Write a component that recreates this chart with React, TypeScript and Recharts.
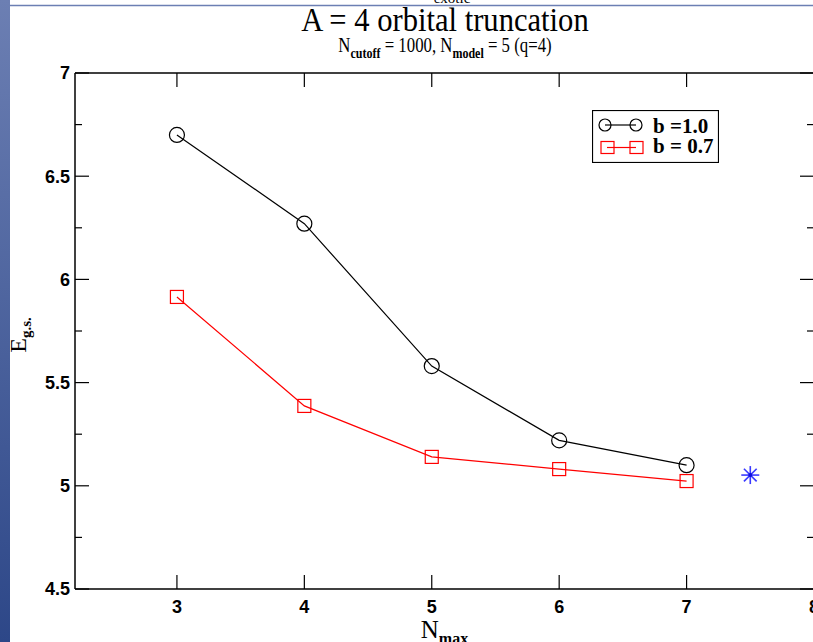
import React from 'react';
import { ComposedChart, Line, Scatter, XAxis, YAxis, Legend } from 'recharts';

// ---- data ----
const nmaxValues = [3, 4, 5, 6, 7];
const energyB10 = [6.7, 6.27, 5.58, 5.22, 5.1];
const energyB07 = [5.915, 5.387, 5.14, 5.081, 5.023];
const extrapolatedNmax = [7.5];
const extrapolatedEnergy = [5.052];
const xTicks = [3, 4, 5, 6, 7, 8];
const yTicks = [4.5, 4.75, 5, 5.25, 5.5, 5.75, 6, 6.25, 6.5, 6.75, 7];
const seriesNames = ['b =1.0', 'b = 0.7'];
const xDomain: [number, number] = [2.2, 8];
const yDomain: [number, number] = [4.5, 7];

const dataB10 = nmaxValues.map((n, i) => ({ x: n, y: energyB10[i] }));
const dataB07 = nmaxValues.map((n, i) => ({ x: n, y: energyB07[i] }));
const dataStar = extrapolatedNmax.map((n, i) => ({ x: n, y: extrapolatedEnergy[i] }));

const TM = 5; // tick margin
const MAJOR = 14;
const MINOR = 7;
const TICK_FONT = '"Liberation Sans", Arial, sans-serif';
const SERIF = '"Liberation Serif", "Times New Roman", serif';

const isMajor = (v: number) => Math.abs(v * 2 - Math.round(v * 2)) < 1e-6;

const LeftTick = (props: any) => {
  const { x, y, payload } = props;
  const v = payload.value as number;
  const edge = x + TM;
  const major = isMajor(v);
  return (
    <g>
      <line x1={edge} x2={edge + (major ? MAJOR : MINOR)} y1={y} y2={y} stroke="#000" strokeWidth={1.2} />
      {major && (
        <text x={x} y={y} dy="0.36em" textAnchor="end" fontFamily={TICK_FONT} fontWeight="bold" fontSize={18} fill="#000">
          {String(v)}
        </text>
      )}
    </g>
  );
};

const RightTick = (props: any) => {
  const { x, y, payload } = props;
  const v = payload.value as number;
  const edge = x - TM;
  const major = isMajor(v);
  return <line x1={edge} x2={edge - (major ? MAJOR : MINOR)} y1={y} y2={y} stroke="#000" strokeWidth={1.2} />;
};

const BottomTick = (props: any) => {
  const { x, y, payload } = props;
  const edge = y - TM;
  return (
    <g>
      <line x1={x} x2={x} y1={edge} y2={edge - MAJOR} stroke="#000" strokeWidth={1.2} />
      <text x={x} y={edge + 24} textAnchor="middle" fontFamily={TICK_FONT} fontWeight="bold" fontSize={18} fill="#000">
        {String(payload.value)}
      </text>
    </g>
  );
};

const TopTick = (props: any) => {
  const { x, y } = props;
  const edge = y + TM;
  return <line x1={x} x2={x} y1={edge} y2={edge + MAJOR} stroke="#000" strokeWidth={1.2} />;
};

const YTitle = (props: any) => {
  const vb = props.viewBox || { x: 0, y: 73, width: 75, height: 516 };
  const cx = vb.x + 26;
  const cy = vb.y + vb.height / 2 + 4;
  return (
    <text transform={`translate(${cx},${cy}) rotate(-90)`} textAnchor="middle" fontFamily={SERIF} fontSize={24} fill="#000">
      E
      <tspan dy={5} fontSize={15} fontWeight="bold">g.s.</tspan>
    </text>
  );
};

const XTitle = (props: any) => {
  const vb = props.viewBox || { x: 75, y: 589, width: 739, height: 53 };
  return (
    <text x={vb.x + vb.width / 2} y={vb.y + 49} textAnchor="middle" fontFamily={SERIF} fontSize={25} fill="#000">
      N
      <tspan dy={6} fontSize={16} fontWeight="bold">max</tspan>
    </text>
  );
};

const CircleDot = (p: any) => (
  <circle key={`c-${p.index}`} cx={p.cx} cy={p.cy} r={7.5} fill="none" stroke="#000" strokeWidth={1.2} />
);
const SquareDot = (p: any) => (
  <rect key={`s-${p.index}`} x={p.cx - 6.5} y={p.cy - 6.5} width={13} height={13} fill="none" stroke="#ff0000" strokeWidth={1.2} />
);
const StarShape = (p: any) => {
  const { cx, cy } = p;
  const r = 9;
  const d = r * Math.SQRT1_2;
  return (
    <g stroke="#3a3aff" strokeWidth={1.6}>
      <line x1={cx - r} x2={cx + r} y1={cy} y2={cy} />
      <line x1={cx} x2={cx} y1={cy - r} y2={cy + r} />
      <line x1={cx - d} x2={cx + d} y1={cy - d} y2={cy + d} />
      <line x1={cx - d} x2={cx + d} y1={cy + d} y2={cy - d} />
      <circle cx={cx} cy={cy} r={2} fill="#1010e0" stroke="none" />
    </g>
  );
};

const LegendBox = () => (
  <svg width={127} height={53} style={{ display: 'block' }}>
    <rect x={0.5} y={0.5} width={126} height={52} fill="#fff" stroke="#000" strokeWidth={1.2} />
    <line x1={13} x2={44} y1={15} y2={15} stroke="#000" strokeWidth={1.2} />
    <circle cx={13} cy={15} r={6} fill="none" stroke="#000" strokeWidth={1.2} />
    <circle cx={44} cy={15} r={6} fill="none" stroke="#000" strokeWidth={1.2} />
    <text x={61} y={23} fontFamily={SERIF} fontWeight="bold" fontSize={21} fill="#000">{seriesNames[0]}</text>
    <line x1={15} x2={44} y1={37.5} y2={37.5} stroke="#ff0000" strokeWidth={1.2} />
    <rect x={9} y={31.5} width={13} height={12} fill="none" stroke="#ff0000" strokeWidth={1.2} />
    <rect x={38} y={31.5} width={13} height={12} fill="none" stroke="#ff0000" strokeWidth={1.2} />
    <text x={61} y={43} fontFamily={SERIF} fontWeight="bold" fontSize={21} fill="#000">{seriesNames[1]}</text>
  </svg>
);

export default function App() {
  return (
    <div style={{ position: 'absolute', left: 0, top: 0, width: 813, height: 642, overflow: 'hidden', background: '#fff' }}>
      <svg width={813} height={642} style={{ position: 'absolute', left: 0, top: 0 }}>
        <defs>
          <linearGradient id="strip" x1="0" y1="0" x2="0" y2="1">
            <stop offset="0%" stopColor="#6c7fb3" />
            <stop offset="100%" stopColor="#2d4788" />
          </linearGradient>
        </defs>
        <rect x={0} y={0} width={10} height={642} fill="url(#strip)" />
        <line x1={10} x2={813} y1={5.5} y2={5.5} stroke="#6c7fb3" strokeWidth={1.5} />
        <text x={452} y={3} textAnchor="middle" fontFamily={SERIF} fontSize={15} fill="#000">exotic</text>
        <text transform="translate(445,31) scale(0.9,1)" textAnchor="middle" fontFamily={SERIF} fontSize={34} fill="#000">
          A = 4 orbital truncation
        </text>
        <text transform="translate(445,52) scale(0.8,1)" textAnchor="middle" fontFamily={SERIF} fontSize={21} fill="#000">
          N<tspan dy={6} fontSize={15} fontWeight="bold">cutoff</tspan>
          <tspan dy={-6}> = 1000, N</tspan>
          <tspan dy={6} fontSize={15} fontWeight="bold">model</tspan>
          <tspan dy={-6}> = 5 (q=4)</tspan>
        </text>
      </svg>
      <div style={{ position: 'absolute', left: 0, top: 0 }}>
        <ComposedChart width={840} height={642} margin={{ top: 0, right: 0, bottom: 0, left: 0 }}>
          <XAxis
            dataKey="x"
            type="number"
            domain={xDomain}
            ticks={xTicks}
            interval={0}
            allowDataOverflow
            height={53}
            tickSize={0}
            tickMargin={TM}
            tick={<BottomTick />}
            axisLine={{ stroke: '#000', strokeWidth: 1.5 }}
            label={<XTitle />}
          />
          <XAxis
            xAxisId="top"
            orientation="top"
            dataKey="x"
            type="number"
            domain={xDomain}
            ticks={xTicks}
            interval={0}
            allowDataOverflow
            height={73}
            tickSize={0}
            tickMargin={TM}
            tick={<TopTick />}
            axisLine={{ stroke: '#000', strokeWidth: 1.5 }}
          />
          <YAxis
            dataKey="y"
            type="number"
            domain={yDomain}
            ticks={yTicks}
            interval={0}
            allowDataOverflow
            width={75}
            tickSize={0}
            tickMargin={TM}
            tick={<LeftTick />}
            axisLine={{ stroke: '#000', strokeWidth: 1.5 }}
            label={<YTitle />}
          />
          <YAxis
            yAxisId="right"
            orientation="right"
            type="number"
            domain={yDomain}
            ticks={yTicks}
            interval={0}
            allowDataOverflow
            width={26}
            tickSize={0}
            tickMargin={TM}
            tick={<RightTick />}
            axisLine={{ stroke: '#000', strokeWidth: 1.5 }}
          />
          <Legend
            layout="vertical"
            align="center"
            verticalAlign="middle"
            content={() => <LegendBox />}
            wrapperStyle={{ left: 592, top: 110, width: 127, height: 53 }}
          />
          <Line
            data={dataB10}
            dataKey="y"
            name={seriesNames[0]}
            stroke="#000"
            strokeWidth={1.2}
            dot={CircleDot}
            activeDot={false}
            isAnimationActive={false}
          />
          <Line
            data={dataB07}
            dataKey="y"
            name={seriesNames[1]}
            stroke="#ff0000"
            strokeWidth={1.2}
            dot={SquareDot}
            activeDot={false}
            isAnimationActive={false}
          />
          <Scatter data={dataStar} dataKey="y" shape={StarShape} isAnimationActive={false} legendType="none" />
        </ComposedChart>
      </div>
    </div>
  );
}
